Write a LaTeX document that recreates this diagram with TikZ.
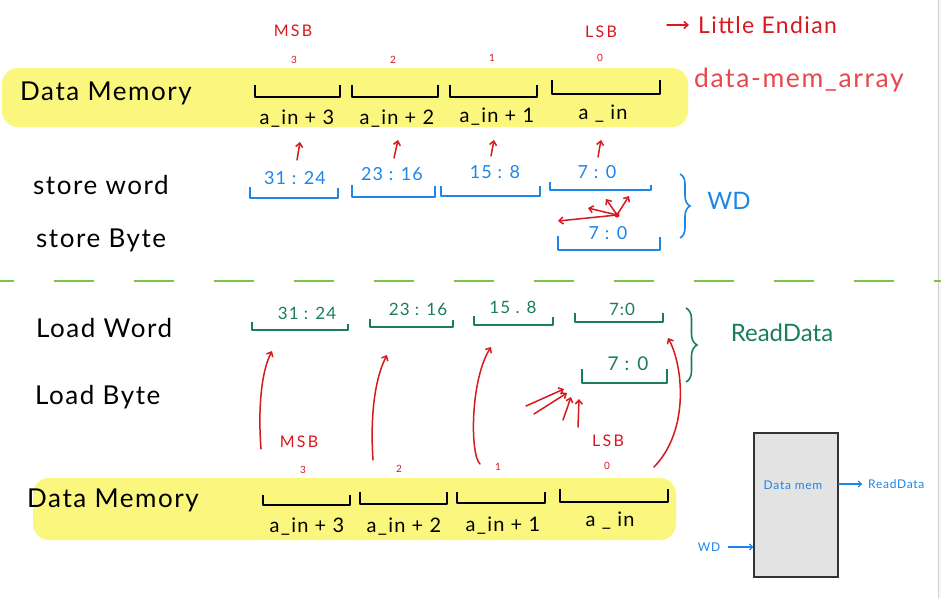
\documentclass[tikz,border=0pt]{standalone}
\usepackage{fontspec}
\setmainfont{Lato}
\newfontfamily\hw[LetterSpace=6]{Lato}
\newfontfamily\hww[LetterSpace=14]{Lato}
\usetikzlibrary{arrows.meta,decorations.pathreplacing,calc}
\definecolor{hred}{HTML}{D7191F}
\definecolor{hpink}{HTML}{E8474E}
\definecolor{hblue}{HTML}{1E86E8}
\definecolor{hgreen}{HTML}{1A7D5C}
\definecolor{hyel}{HTML}{FBF77E}
\definecolor{hlime}{HTML}{7CC443}
\tikzset{
  big/.style={font=\hw\fontsize{26}{28}\selectfont, text=black, inner sep=0pt},
  addr/.style={font=\hw\fontsize{20}{22}\selectfont, text=black, inner sep=0pt},
  tiny/.style={font=\fontsize{10}{11}\selectfont, text=hred, inner sep=0pt},
  sbl/.style={font=\hww\fontsize{16}{18}\selectfont, text=hred, inner sep=0pt},
  blbl/.style={font=\hw\fontsize{18}{20}\selectfont, text=hblue, inner sep=0pt},
  glbl/.style={font=\hw\fontsize{17}{19}\selectfont, text=hgreen, inner sep=0pt},
  smb/.style={font=\hw\fontsize{12}{14}\selectfont, text=hblue, inner sep=0pt},
  kbrk/.style={draw=black, line width=1.6pt, line join=round},
  bbrk/.style={draw=hblue, line width=1.5pt, line join=round},
  gbrk/.style={draw=hgreen, line width=1.5pt, line join=round},
  rarr/.style={draw=hred, line width=1.5pt, line cap=round, -{Straight Barb[length=4pt,width=7pt]}},
  barr/.style={draw=hblue, line width=1.2pt, line cap=round, -{Straight Barb[length=3pt,width=6pt]}},
  yband/.style={fill=hyel, rounded corners=16pt},
}
\begin{document}
\begin{tikzpicture}[x=1pt,y=-1pt]
\useasboundingbox (0,0) rectangle (941,598);
\fill[white] (0,0) rectangle (941,598);
\fill[gray!6] (938,0) rectangle (941,598);
\draw[gray!35, line width=0.8pt] (938,0) -- (938,598);

% ---------- top data memory ----------
\fill[yband] (2,68) rectangle (688,127);
\node[big, anchor=west] (dmt) at (20,93) {Data Memory};
\node[sbl] (msbt) at (293,31) {MSB};
\node[sbl] (lsbt) at (601,32) {LSB};
\node[font=\hw\fontsize{23}{25}\selectfont, text=hred, inner sep=0pt, anchor=west] (le) at (698,25) {Little Endian};
\coordinate (lea) at (667,25);
\draw[rarr] (lea) -- ($(le.west)+(-9,0)$);
\node[font=\hw\fontsize{26.5}{28}\selectfont, text=hpink, inner sep=0pt, anchor=west] (dma) at (694,80) {data-mem\_array};
\node[tiny] (t3) at (294,60) {3};
\node[tiny] (t2) at (393,60) {2};
\node[tiny] (t1) at (492,58) {1};
\node[tiny] (t0) at (600,58) {0};
\draw[kbrk] (255,85) |- (340,97) -- (340,85);
\draw[kbrk] (352,85) |- (438,97) -- (438,85);
\draw[kbrk] (450,85) |- (537,97) -- (537,85);
\draw[kbrk] (552,80) |- (660,94) -- (660,80);
\node[addr] (am3) at (297,119) {a\_in + 3};
\node[addr] (am2) at (397,119) {a\_in + 2};
\node[addr] (am1) at (497,117) {a\_in + 1};
\node[addr] (am0) at (603,114) {a \_ in};

% ---------- store ----------
\node[big, anchor=west] (sw) at (33,185) {store word};
\node[big, anchor=west] (sb) at (36,240) {store Byte};
\node[blbl] (s1) at (295,178) {31 : 24};
\node[blbl] (s2) at (392,174) {23 : 16};
\node[blbl] (s3) at (495,172) {15 : 8};
\node[blbl] (s4) at (597,172) {7 : 0};
\draw[bbrk] (250,187) |- (338,198) -- (338,188);
\draw[bbrk] (352,185) |- (435,197) -- (435,186);
\draw[bbrk] (441,186) |- (540,196) -- (540,186);
\draw[bbrk] (550,182) |- (651,190) -- (651,185);
\node[blbl] (sbb) at (608,233) {7 : 0};
\draw[bbrk] (558,236) |- (660,250) -- (660,237);
\coordinate (u1s) at (297,160); \coordinate (u1e) at (300,142);
\coordinate (u2s) at (394,158); \coordinate (u2e) at (398,140);
\coordinate (u3s) at (491,156); \coordinate (u3e) at (494,140);
\coordinate (u4s) at (598,157); \coordinate (u4e) at (601,140);
\draw[rarr] (u1s) -- (u1e);
\draw[rarr] (u2s) -- (u2e);
\draw[rarr] (u3s) -- (u3e);
\draw[rarr] (u4s) -- (u4e);
\coordinate (dot) at (617,215);
\coordinate (d1) at (558,221);
\coordinate (d2) at (588,208);
\coordinate (d3) at (606,199);
\coordinate (d4) at (629,196);
\draw[rarr] (dot) -- (d1);
\draw[rarr] (dot) -- (d2);
\draw[rarr] (dot) -- (d3);
\draw[rarr] (dot) -- (d4);
\fill[hred] (dot) circle (2.5pt);
\draw[hblue, line width=1.6pt, decorate, decoration={brace, amplitude=10pt}] (680,174) -- (680,238);
\node[font=\fontsize{24}{26}\selectfont, text=hblue, inner sep=0pt] (wd) at (729,201) {WD};

% ---------- separator ----------
\draw[hlime, line width=1.6pt, dash pattern=on 40pt off 40pt, dash phase=26pt] (0,281) -- (941,281);

% ---------- load ----------
\node[big, anchor=west] (lw) at (36,328) {Load Word};
\node[big, anchor=west] (lb) at (35,397) {Load Byte};
\node[glbl] (l1) at (307,313) {31 : 24};
\node[glbl] (l2) at (418,309) {23 : 16};
\node[glbl] (l3) at (513,307) {15 . 8};
\node[glbl] (l4) at (622,309) {7:0};
\draw[gbrk] (252,322) |- (348,330) -- (348,324);
\draw[gbrk] (370,319) |- (453,327) -- (453,320);
\draw[gbrk] (474,316) |- (553,325) -- (553,317);
\draw[gbrk] (575,313) |- (663,322) -- (663,313);
\node[glbl, font=\hw\fontsize{19}{21}\selectfont] (lbb) at (628,364) {7 : 0};
\draw[gbrk] (582,369) |- (667,383) -- (667,369);
\draw[hgreen, line width=1.6pt, decorate, decoration={brace, amplitude=11pt}] (686,308) -- (686,382);
\node[font=\fontsize{24}{26}\selectfont, text=hgreen, inner sep=0pt] (rd) at (782,333) {ReadData};

\node[sbl] (msbb) at (299,442) {MSB};
\node[sbl] (lsbb) at (608,441) {LSB};
\node[tiny] (b3) at (303,470) {3};
\node[tiny] (b2) at (399,469) {2};
\node[tiny] (b1) at (498,467) {1};
\node[tiny] (b0) at (607,466) {0};

\coordinate (c1s) at (261,449); \coordinate (c1e) at (272,351);
\coordinate (c2s) at (373,460); \coordinate (c2e) at (387,355);
\coordinate (c3s) at (480,464); \coordinate (c3e) at (491,347);
\coordinate (c4s) at (654,467); \coordinate (c4e) at (668,338);
\draw[rarr] (c1s) .. controls (258,410) and (261,372) .. (c1e);
\draw[rarr] (c2s) .. controls (370,415) and (375,378) .. (c2e);
\draw[rarr] (c3s) .. controls (470,455) and (470,380) .. (c3e);
\draw[rarr] (c4s) .. controls (690,430) and (683,365) .. (c4e);
\coordinate (k1s) at (526,406); \coordinate (k1e) at (564,389);
\coordinate (k2s) at (534,414); \coordinate (k2e) at (567,393);
\coordinate (k3s) at (563,420); \coordinate (k3e) at (571,397);
\coordinate (k4s) at (578,427); \coordinate (k4e) at (579,399);
\draw[rarr] (k1s) -- (k1e);
\draw[rarr] (k2s) -- (k2e);
\draw[rarr] (k3s) -- (k3e);
\draw[rarr] (k4s) -- (k4e);

% ---------- bottom data memory ----------
\fill[yband] (33,478) rectangle (676,540);
\node[big, anchor=west] (dmb) at (27,500) {Data Memory};
\draw[kbrk] (263,495) |- (350,505) -- (350,495);
\draw[kbrk] (360,492) |- (447,504) -- (447,492);
\draw[kbrk] (457,492) |- (545,503) -- (545,492);
\draw[kbrk] (560,489) |- (668,502) -- (668,489);
\node[addr] (bm3) at (307,527) {a\_in + 3};
\node[addr] (bm2) at (404,527) {a\_in + 2};
\node[addr] (bm1) at (503,526) {a\_in + 1};
\node[addr] (bm0) at (610,521) {a \_ in};

% ---------- block ----------
\node[draw=black!80, fill=black!11, line width=1.4pt, minimum width=84pt, minimum height=144pt, inner sep=0pt] (blk) at (796,505) {};
\node[smb] (blkt) at (793,485) {Data mem};
\node[smb, anchor=west] (rdo) at (868,484) {ReadData};
\node[smb] (wdi) at (709,547) {WD};
\draw[barr, shorten >=6pt] (blk.east |- rdo) -- (rdo.west);
\draw[barr] ($(wdi.east)+(8,0)$) -- (blk.west |- wdi);
\end{tikzpicture}
\end{document}
